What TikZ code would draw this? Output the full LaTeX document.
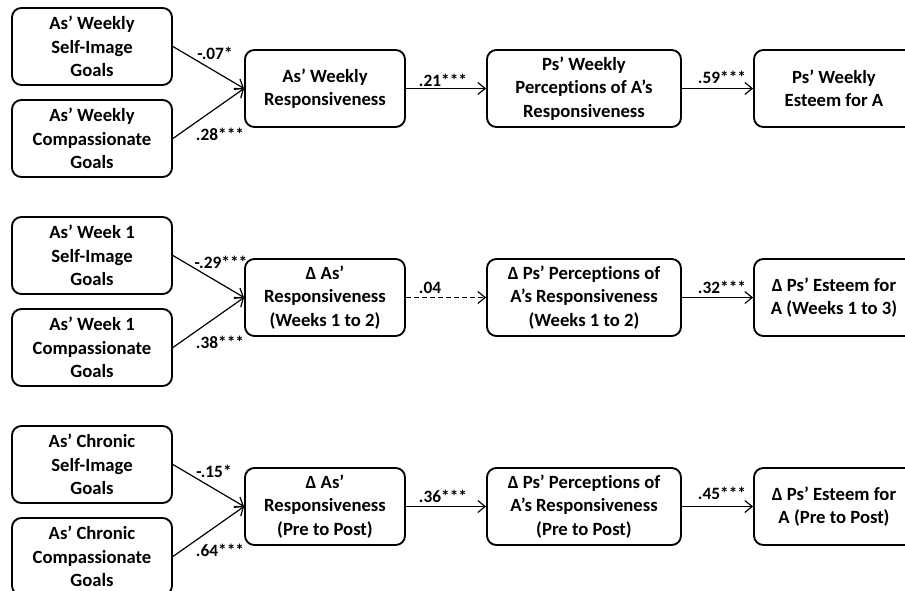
\documentclass[tikz,border=0pt]{standalone}
\usepackage{fontspec}
\setmainfont{Carlito}[Ligatures=NoCommon]
\usepackage{tikz}
\usetikzlibrary{positioning, arrows.meta, calc}

\begin{document}
\begin{tikzpicture}[x=0.75pt, y=-0.75pt,
    box/.style={draw, line width=1.4pt, rounded corners=7pt, align=center,
                minimum height=57.75pt, minimum width=120pt, inner sep=2pt,
                font=\bfseries\fontsize{14}{17.6}\selectfont},
    widebox/.style={box, minimum width=145.5pt},
    lbl/.style={inner sep=1pt, font=\bfseries\fontsize{13}{15}\selectfont},
    path/.style={line width=0.9pt, -{Straight Barb[length=5.5pt, width=9pt, line width=0.9pt]}},
    nspath/.style={path, dash pattern=on 3.5pt off 2.5pt}]
  \path[use as bounding box, clip] (0,0) rectangle (905,591);

  \node[box] (si1) at (92,46.5) {As’ Weekly\\Self-Image\\Goals};
  \node[box] (cg1) at (92,138.5) {As’ Weekly\\Compassionate\\Goals};
  \node[box] (ar1) at (325,88.5) {As’ Weekly\\Responsiveness};
  \node[widebox] (pp1) at (584,88.5) {Ps’ Weekly\\Perceptions of A’s\\Responsiveness};
  \node[box] (pe1) at (834,88.5) {Ps’ Weekly\\Esteem for A};

  \node[box] (si2) at (92,255.5) {As’ Week 1\\Self-Image\\Goals};
  \node[box] (cg2) at (92,347.5) {As’ Week 1\\Compassionate\\Goals};
  \node[box] (ar2) at (325,297.5) {Δ As’\\Responsiveness\\(Weeks 1 to 2)};
  \node[widebox] (pp2) at (584,297.5) {Δ Ps’ Perceptions of\\A’s Responsiveness\\(Weeks 1 to 2)};
  \node[box] (pe2) at (834,297.5) {Δ Ps’ Esteem for\\A (Weeks 1 to 3)};

  \node[box] (si3) at (92,464.5) {As’ Chronic\\Self-Image\\Goals};
  \node[box] (cg3) at (92,556.5) {As’ Chronic\\Compassionate\\Goals};
  \node[box] (ar3) at (325,506.5) {Δ As’\\Responsiveness\\(Pre to Post)};
  \node[widebox] (pp3) at (584,506.5) {Δ Ps’ Perceptions of\\A’s Responsiveness\\(Pre to Post)};
  \node[box] (pe3) at (834,506.5) {Δ Ps’ Esteem for\\A (Pre to Post)};

  \draw[path] (si1.east) -- (ar1.west);
  \draw[path] (cg1.east) -- (ar1.west);
  \draw[path] (ar1) -- (pp1);
  \draw[path] (pp1) -- (pe1);
  \draw[path] (si2.east) -- (ar2.west);
  \draw[path] (cg2.east) -- (ar2.west);
  \draw[nspath] (ar2) -- (pp2);
  \draw[path] (pp2) -- (pe2);
  \draw[path] (si3.east) -- (ar3.west);
  \draw[path] (cg3.east) -- (ar3.west);
  \draw[path] (ar3) -- (pp3);
  \draw[path] (pp3) -- (pe3);

  \node[lbl] (b11) at (215,53) {-.07*};
  \node[lbl] (b12) at (220,134) {.28***};
  \node[lbl] (b13) at (443,80) {.21***};
  \node[lbl] (b14) at (722,77) {.59***};
  \node[lbl] (b21) at (221,262) {-.29***};
  \node[lbl] (b22) at (220,342) {.38***};
  \node[lbl] (b23) at (430,288) {.04};
  \node[lbl] (b24) at (722,287) {.32***};
  \node[lbl] (b31) at (214,471) {-.15*};
  \node[lbl] (b32) at (220,550) {.64***};
  \node[lbl] (b33) at (443,496) {.36***};
  \node[lbl] (b34) at (722,493) {.45***};
\end{tikzpicture}
\end{document}
